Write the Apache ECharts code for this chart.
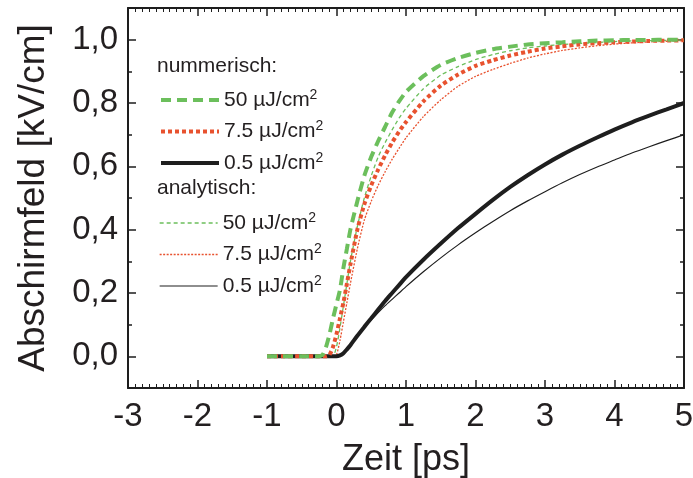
<!DOCTYPE html>
<html>
<head>
<meta charset="utf-8">
<script src="https://cdn.jsdelivr.net/npm/echarts@6/dist/echarts.min.js"></script>
<style>html,body{margin:0;padding:0;background:#fff}#c{width:693px;height:478px}</style>
</head>
<body>
<div id="c"></div>
<script>
// ---- data ----
const timePs = [-1, -0.5, -0.25, -0.2, -0.15, -0.1, -0.05, 0, 0.05, 0.1, 0.15, 0.2, 0.3, 0.4, 0.5, 0.6, 0.7, 0.8, 0.9, 1.0,
                1.25, 1.5, 1.75, 2.0, 2.25, 2.5, 2.75, 3.0, 3.25, 3.5, 3.75, 4.0, 4.25, 4.5, 4.75, 5.0];
const num50  = [0, 0, 0, 0.005, 0.03, 0.07, 0.12, 0.165, 0.21, 0.28, 0.34, 0.40, 0.49, 0.57, 0.63, 0.68, 0.725, 0.77, 0.805, 0.835,
                0.885, 0.92, 0.942, 0.958, 0.97, 0.978, 0.985, 0.989, 0.992, 0.995, 0.997, 0.998, 0.999, 0.999, 1.0, 1.0];
const num75  = [0, 0, 0, 0, 0, 0.005, 0.03, 0.07, 0.12, 0.17, 0.23, 0.29, 0.40, 0.48, 0.54, 0.59, 0.635, 0.675, 0.71, 0.74,
                0.805, 0.855, 0.89, 0.917, 0.935, 0.95, 0.962, 0.972, 0.979, 0.985, 0.989, 0.992, 0.994, 0.996, 0.997, 0.998];
const num05  = [0, 0, 0, 0, 0, 0, 0, 0, 0.003, 0.01, 0.022, 0.035, 0.065, 0.093, 0.12, 0.148, 0.175, 0.20, 0.225, 0.25,
                0.305, 0.356, 0.405, 0.45, 0.494, 0.535, 0.572, 0.606, 0.637, 0.665, 0.691, 0.716, 0.739, 0.76, 0.78, 0.80];
const ana50  = [0, 0, 0, 0, 0, 0, 0, 0.03, 0.09, 0.16, 0.23, 0.30, 0.41, 0.50, 0.57, 0.63, 0.675, 0.715, 0.752, 0.783,
                0.845, 0.888, 0.915, 0.937, 0.953, 0.965, 0.974, 0.98, 0.985, 0.988, 0.991, 0.994, 0.996, 0.997, 0.998, 0.999];
const ana75  = [0, 0, 0, 0, 0, 0, 0, 0.005, 0.05, 0.11, 0.17, 0.23, 0.34, 0.43, 0.49, 0.54, 0.583, 0.622, 0.657, 0.69,
                0.757, 0.81, 0.853, 0.884, 0.906, 0.925, 0.942, 0.955, 0.966, 0.974, 0.981, 0.986, 0.99, 0.993, 0.995, 0.997];
const ana05  = [0, 0, 0, 0, 0, 0, 0, 0, 0.003, 0.01, 0.022, 0.035, 0.065, 0.092, 0.115, 0.138, 0.16, 0.18, 0.20, 0.22,
                0.267, 0.311, 0.352, 0.39, 0.426, 0.46, 0.491, 0.52, 0.548, 0.574, 0.598, 0.62, 0.642, 0.662, 0.681, 0.70];
const xTicks = [-3, -2, -1, 0, 1, 2, 3, 4, 5];
const yMajorTicks = [0, 0.2, 0.4, 0.6, 0.8, 1.0];
const legendTexts = { n50: '50 µJ/cm', n75: '7.5 µJ/cm', n05: '0.5 µJ/cm', a50: '50 µJ/cm', a75: '7.5 µJ/cm', a05: '0.5 µJ/cm' };
const headerTexts = ['nummerisch:', 'analytisch:'];

// ---- chart ----
const FONT = 'Liberation Sans, Arial, Helvetica, sans-serif';
const TXT = '#231f20';
const GREEN = '#6cbf5c';
const RED = '#e8522f';
const BLACK = '#1e1e1e';

const styles = {
  n50: { color: GREEN, width: 4, type: [10, 6] },
  n75: { color: RED, width: 4, type: [4, 3] },
  n05: { color: BLACK, width: 4, type: 'solid' },
  a50: { color: GREEN, width: 1.3, type: [4, 3] },
  a75: { color: RED, width: 1.3, type: [2, 1.5] },
  a05: { color: BLACK, width: 1.2, type: 'solid' }
};

function pairs(vals) { return timePs.map((t, i) => [t, vals[i]]); }

const chart = echarts.init(document.getElementById('c'), null, { renderer: 'canvas' });

const axisLine = { show: true, onZero: false, lineStyle: { color: BLACK, width: 2 } };

function yLabelFmt(v) {
  const k = Math.round(v * 10);
  if (k % 2 !== 0 || k < 0 || k > 10) return '';
  return (k / 10).toFixed(1).replace('.', ',');
}

function legendItem(name) {
  const s = styles[name];
  return { name, itemStyle: { opacity: 0 }, lineStyle: { color: s.color, width: s.width, type: s.type, opacity: 1 } };
}

const legendBase = {
  orient: 'vertical', left: 154, itemWidth: 58, itemHeight: 14, itemGap: 9,
  itemStyle: { opacity: 0 },
  textStyle: { fontFamily: FONT, fontSize: 21, color: TXT, rich: { sup: { fontFamily: FONT, fontSize: 14, color: TXT, verticalAlign: 'top', padding: [0, 0, 10, 0] } } },
  formatter: name => legendTexts[name] + '{sup|2}',
  selectedMode: false
};

chart.setOption({
  animation: false,
  backgroundColor: '#fff',
  grid: { left: 128, right: 9, top: 8, bottom: 90, containLabel: false, outerBoundsMode: 'none' },
  legend: [
    Object.assign({}, legendBase, { top: 83, data: ['n50', 'n75', 'n05'].map(legendItem) }),
    Object.assign({}, legendBase, { top: 206, data: ['a50', 'a75', 'a05'].map(legendItem) })
  ],
  graphic: [
    { type: 'text', left: 157, top: 56, style: { text: headerTexts[0], font: '21px ' + FONT, fill: TXT } },
    { type: 'text', left: 157, top: 178, style: { text: headerTexts[1], font: '21px ' + FONT, fill: TXT } }
  ],
  xAxis: [
    {
      type: 'value', position: 'bottom', min: xTicks[0], max: xTicks[xTicks.length - 1], interval: 1,
      axisLine, splitLine: { show: false },
      axisTick: { show: true, inside: true, length: 8, lineStyle: { color: BLACK, width: 1.5 } },
      minorTick: { show: true, splitNumber: 10, length: 4, lineStyle: { color: BLACK, width: 1 } },
      axisLabel: { fontFamily: FONT, fontSize: 33, color: TXT, margin: 12 },
      name: 'Zeit [ps]', nameLocation: 'middle', nameGap: 54,
      nameTextStyle: { fontFamily: FONT, fontSize: 36, color: TXT, verticalAlign: 'top' }
    },
    {
      type: 'value', position: 'top', min: xTicks[0], max: xTicks[xTicks.length - 1], interval: 1,
      axisLine, splitLine: { show: false },
      axisTick: { show: true, inside: true, length: 8, lineStyle: { color: BLACK, width: 1.5 } },
      minorTick: { show: true, splitNumber: 10, length: 4, lineStyle: { color: BLACK, width: 1 } },
      axisLabel: { show: false }
    }
  ],
  yAxis: [
    {
      type: 'value', position: 'left', min: -0.1, max: 1.1, interval: 0.1,
      axisLine, splitLine: { show: false },
      axisTick: { show: true, inside: true, length: 4, lineStyle: { color: BLACK, width: 1.5 } },
      axisLabel: { fontFamily: FONT, fontSize: 33, color: TXT, margin: 10, formatter: yLabelFmt },
      name: 'Abschirmfeld [kV/cm]', nameLocation: 'middle', nameGap: 76,
      nameTextStyle: { fontFamily: FONT, fontSize: 37, color: TXT }
    },
    {
      type: 'value', position: 'left', min: -0.1, max: 1.1, interval: 0.1,
      axisLine: { show: false, onZero: false }, splitLine: { show: false }, axisLabel: { show: false },
      axisTick: { show: true, inside: true, length: 8, customValues: yMajorTicks, lineStyle: { color: BLACK, width: 1.5 } }
    },
    {
      type: 'value', position: 'right', min: -0.1, max: 1.1, interval: 0.1,
      axisLine, splitLine: { show: false }, axisLabel: { show: false },
      axisTick: { show: true, inside: true, length: 4, lineStyle: { color: BLACK, width: 1.5 } }
    },
    {
      type: 'value', position: 'right', min: -0.1, max: 1.1, interval: 0.1,
      axisLine: { show: false, onZero: false }, splitLine: { show: false }, axisLabel: { show: false },
      axisTick: { show: true, inside: true, length: 8, customValues: yMajorTicks, lineStyle: { color: BLACK, width: 1.5 } }
    }
  ],
  series: [
    ['a05', ana05], ['a75', ana75], ['a50', ana50], ['n05', num05], ['n75', num75], ['n50', num50]
  ].map(([name, vals]) => ({
    name, type: 'line', data: pairs(vals), symbol: 'none', showSymbol: false,
    smooth: 0.2, color: styles[name].color,
    lineStyle: { color: styles[name].color, width: styles[name].width, type: styles[name].type }
  }))
});
</script>
</body>
</html>
